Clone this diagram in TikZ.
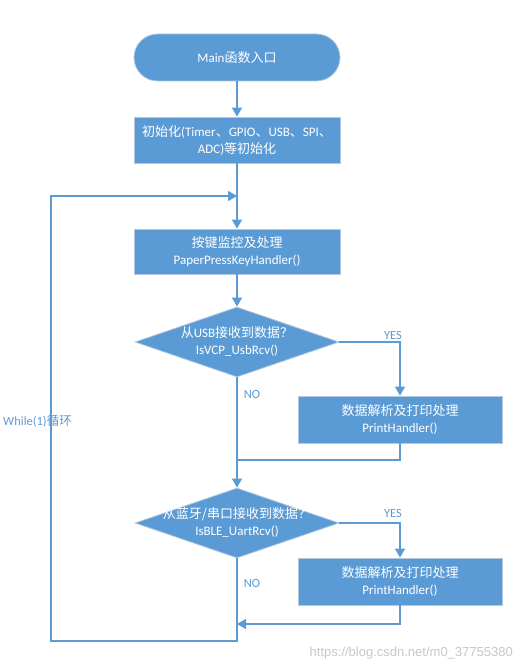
\documentclass[tikz,border=0pt]{standalone}
\usepackage{fontspec}
\setmainfont{Carlito}
\newfontfamily\cjk{Noto Sans CJK SC}
\usetikzlibrary{shapes.geometric,arrows.meta}
\definecolor{obl}{HTML}{5B9BD5}
\definecolor{obd}{HTML}{B4C7DC}
\begin{document}
\begin{tikzpicture}[x=1pt,y=-1pt,
  box/.style={draw=obd,line width=0.8pt,fill=obl,minimum width=206pt,minimum height=46pt,inner sep=0pt,text=white,align=center,font=\fontsize{13}{17}\selectfont},
  dia/.style={shape=diamond,draw=obd,line width=0.8pt,fill=obl,minimum width=204pt,minimum height=70pt,inner sep=0pt},
  txt/.style={text=white,align=center,font=\fontsize{13}{17}\selectfont,inner sep=0pt},
  lbl/.style={text=obl,font=\fontsize{12.5}{13}\selectfont,inner sep=0pt},
  ln/.style={draw=obl,line width=1.3pt},
  arr/.style={ln,-{Triangle[length=9pt,width=10pt]}}]
\useasboundingbox (0,0) rectangle (526,671);
\node[box,rounded corners=23.5pt,minimum height=47pt] (start) at (237,57.5) {Main{\cjk 函数入口}};
\node[box] (init) at (237,140) {{\cjk 初始化}(Timer{\cjk 、}GPIO{\cjk 、}USB{\cjk 、}SPI{\cjk 、}\\ADC){\cjk 等初始化}};
\node[box,minimum height=45pt] (key) at (237,251.5) {{\cjk 按键监控及处理}\\PaperPressKeyHandler()};
\node[dia] (d1) at (237,342) {};
\node[txt] (t1) at (237,341) {{\cjk 从}USB{\cjk 接收到数据？}\\IsVCP\_UsbRcv()};
\node[box,minimum width=204pt,minimum height=47pt] (p1) at (400,419.5) {{\cjk 数据解析及打印处理}\\PrintHandler()};
\node[dia] (d2) at (237,523) {};
\node[txt] (t2) at (237,522) {{\cjk 从蓝牙/串口接收到数据？}\\IsBLE\_UartRcv()};
\node[box,minimum width=204pt,minimum height=47pt] (p2) at (400,581.5) {{\cjk 数据解析及打印处理}\\PrintHandler()};
\coordinate (j1) at (237,460);
\coordinate (j2) at (237,624);
\coordinate (e1) at (237,196);
\coordinate (c1) at (237,641);
\coordinate (c2) at (51,641);
\coordinate (c3) at (51,196);
\draw[arr] (start) -- (init);
\draw[arr] (init) -- (key);
\draw[arr] (key) -- (d1);
\draw[arr] (d1.east) -| (p1.north);
\draw[ln] (p1.south) |- (j1);
\draw[arr] (d1.south) -- (d2.north);
\draw[arr] (d2.east) -| (p2.north);
\draw[arr] (p2.south) |- (j2);
\draw[ln] (d2.south) -- (c1) -- (c2) -- (c3) -- (e1);
\draw[arr] (c3) -- (e1);
\node[lbl] (yes1) at (393,335) {YES};
\node[lbl] (no1) at (252,394) {NO};
\node[lbl] (yes2) at (393,513) {YES};
\node[lbl] (no2) at (252,583) {NO};
\node[lbl,anchor=west] (loop) at (3,421) {While(1){\cjk 循环}};
\node[text=black!22,font=\fontsize{13}{13}\selectfont\fontspec{Liberation Sans},anchor=east,inner sep=0pt] (url) at (513,653) {https://blog.csdn.net/m0\_37755380};
\end{tikzpicture}
\end{document}
